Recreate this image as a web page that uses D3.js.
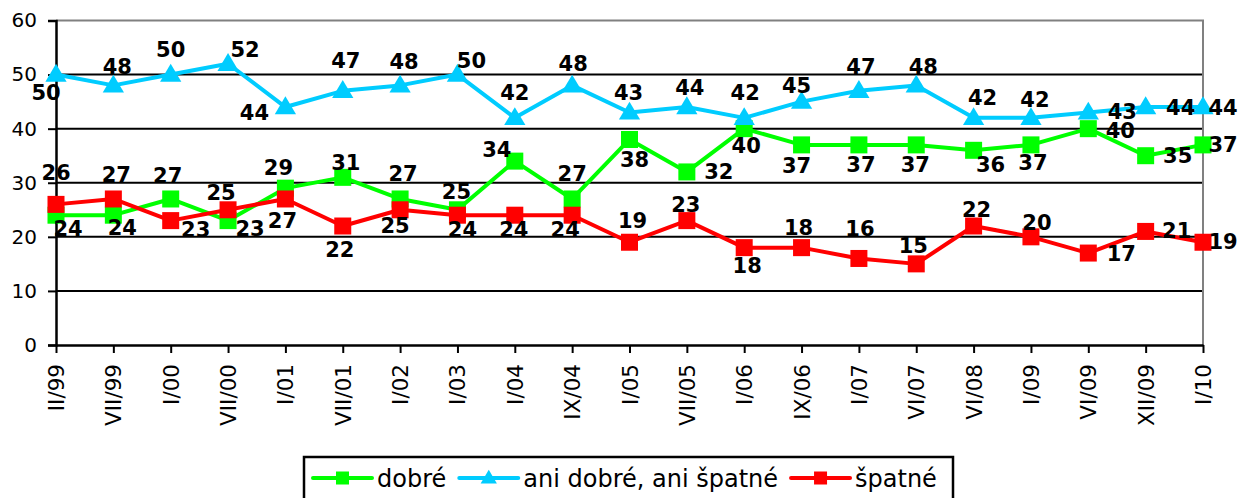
<!DOCTYPE html>
<html><head><meta charset="utf-8">
<script src="https://cdn.jsdelivr.net/npm/d3@7/dist/d3.min.js"></script>
<style>
html,body{margin:0;padding:0;background:#fff;}
svg{display:block;font-family:"DejaVu Sans",Verdana,sans-serif;}
</style></head>
<body>
<svg id="chart" width="1239" height="498"></svg>
<script>
const categories = ["II/99","VII/99","I/00","VII/00","I/01","VII/01","I/02","I/03","I/04","IX/04","I/05","VII/05","I/06","IX/06","I/07","VI/07","VI/08","I/09","VI/09","XII/09","I/10"];
const dobre = [24,24,27,23,29,31,27,25,34,27,38,32,40,37,37,37,36,37,40,35,37];
const ani   = [50,48,50,52,44,47,48,50,42,48,43,44,42,45,47,48,42,42,43,44,44];
const spatne= [26,27,23,25,27,22,25,24,24,24,19,23,18,18,16,15,22,20,17,21,19];
const yTicks = [0,10,20,30,40,50,60];
const seriesNames = ["dobré","ani dobré, ani špatné","špatné"];

// label placement offsets (pixels from point to label centre)
const dobreLabelOffsets = [[12,13],[9,12],[-3,-24],[22,8],[-7,-21],[3,-15],[3,-26],[-1,-18],[-18,-12],[0,-26],[5,20],[32,0],[2,17],[-5,21],[2,20],[-1,20],[17,14],[2,18],[32,2],[32,0],[20,0]];
const aniLabelOffsets = [[-10,18],[4,-19],[0,-25],[17,-14],[-31,5],[3,-30],[4,-24],[14,-14],[0,-25],[1,-22],[-1,-20],[3,-20],[1,-25],[-5,-16],[2,-24],[7,-19],[9,-20],[4,-18],[34,-1],[35,0],[20,0]];
const spatneLabelOffsets = [[0,-32],[3,-25],[25,9],[-7,-17],[-3,21],[-3,23],[-5,16],[5,14],[-1,14],[-7,14],[3,-22],[-1,-16],[3,18],[-3,-20],[1,-30],[-3,-18],[3,-17],[6,-14],[33,0],[31,-1],[20,-1]];

const svg = d3.select("#chart");
const pLeft = 56, pRight = 1203, pTop = 20.5, pBottom = 345;

const x = d3.scalePoint().domain(categories).range([pLeft, pRight]);
const y = d3.scaleLinear().domain([0,60]).range([pBottom, pTop]);

// gridlines
svg.append("g").selectAll("line").data(yTicks.filter(v => v>0 && v<60)).join("line")
  .attr("x1", pLeft).attr("x2", pRight).attr("y1", d=>y(d)).attr("y2", d=>y(d))
  .attr("stroke","#000").attr("stroke-width",2);
// plot border top/right (gray)
svg.append("path").attr("d", `M${pLeft},${y(60)}H${pRight}V${pBottom}`)
  .attr("fill","none").attr("stroke","#808080").attr("stroke-width",2);

// y axis
const yAxis = svg.append("g").attr("transform",`translate(${pLeft},0)`)
  .call(d3.axisLeft(y).tickValues(yTicks).tickSize(8).tickPadding(11).tickFormat(d3.format("d")));
yAxis.select(".domain").attr("stroke","#000").attr("stroke-width",2.5);
yAxis.selectAll(".tick line").attr("stroke","#000").attr("stroke-width",2);
yAxis.selectAll(".tick text").attr("font-size",20).attr("font-family","DejaVu Sans").attr("fill","#000");

// x axis
const xAxis = svg.append("g").attr("transform",`translate(0,${pBottom})`)
  .call(d3.axisBottom(x).tickSize(8).tickSizeOuter(0));
xAxis.select(".domain").attr("stroke","#000").attr("stroke-width",2.5);
xAxis.selectAll(".tick line").attr("stroke","#000").attr("stroke-width",2);
xAxis.selectAll(".tick text")
  .attr("font-size",21.5).attr("font-family","DejaVu Sans").attr("fill","#000")
  .attr("transform","rotate(-90)")
  .attr("text-anchor","end")
  .attr("x",-19).attr("y",0).attr("dy","0.35em");

const series = [
  {name: seriesNames[0], values: dobre, color: "#00FF00", marker: "square", offsets: dobreLabelOffsets},
  {name: seriesNames[1], values: ani, color: "#00CCFF", marker: "triangle", offsets: aniLabelOffsets},
  {name: seriesNames[2], values: spatne, color: "#FF0000", marker: "square", offsets: spatneLabelOffsets}
];

const line = d3.line().x((d,i)=>x(categories[i])).y(d=>y(d));

function drawMarker(g, type, cx, cy, color, size){
  if(type==="square"){
    g.append("rect").attr("x",cx-size/2).attr("y",cy-size/2).attr("width",size).attr("height",size).attr("fill",color);
  } else {
    const w = size*1.25, h = size*1.05;
    g.append("path").attr("d",`M${cx},${cy-h*0.6}L${cx+w/2},${cy+h*0.4}L${cx-w/2},${cy+h*0.4}Z`).attr("fill",color);
  }
}

series.forEach(s => {
  const g = svg.append("g");
  g.append("path").datum(s.values).attr("d", line)
    .attr("fill","none").attr("stroke",s.color).attr("stroke-width",4).attr("stroke-linejoin","round");
  s.values.forEach((v,i) => drawMarker(g, s.marker, x(categories[i]), y(v), s.color, 17));
});

// labels drawn on top
series.forEach(s => {
  svg.append("g").selectAll("text").data(s.values).join("text")
    .attr("x",(d,i)=>x(categories[i]) + s.offsets[i][0])
    .attr("y",(d,i)=>y(d) + s.offsets[i][1])
    .attr("dy","0.36em")
    .attr("text-anchor","middle")
    .attr("font-size",21).attr("font-weight","bold").attr("fill","#000")
    .text(d=>d);
});

// legend
const lg = svg.append("g");
lg.append("rect").attr("x",304).attr("y",457).attr("width",649).attr("height",50)
  .attr("fill","#fff").attr("stroke","#000").attr("stroke-width",2.5);
let lx = 313;
const ly = 478;
series.forEach((s,k) => {
  lg.append("line").attr("x1",lx).attr("x2",lx+59).attr("y1",ly).attr("y2",ly)
    .attr("stroke",s.color).attr("stroke-width",4).attr("stroke-linecap","round");
  drawMarker(lg, s.marker, lx+29.5, ly, s.color, 13);
  const t = lg.append("text").attr("x",lx+64).attr("y",ly).attr("dy","0.36em")
    .attr("font-size",24).attr("fill","#000").text(s.name);
  const w = t.node().getComputedTextLength();
  lx = lx + 64 + w + 13;
});
</script>
</body></html>
